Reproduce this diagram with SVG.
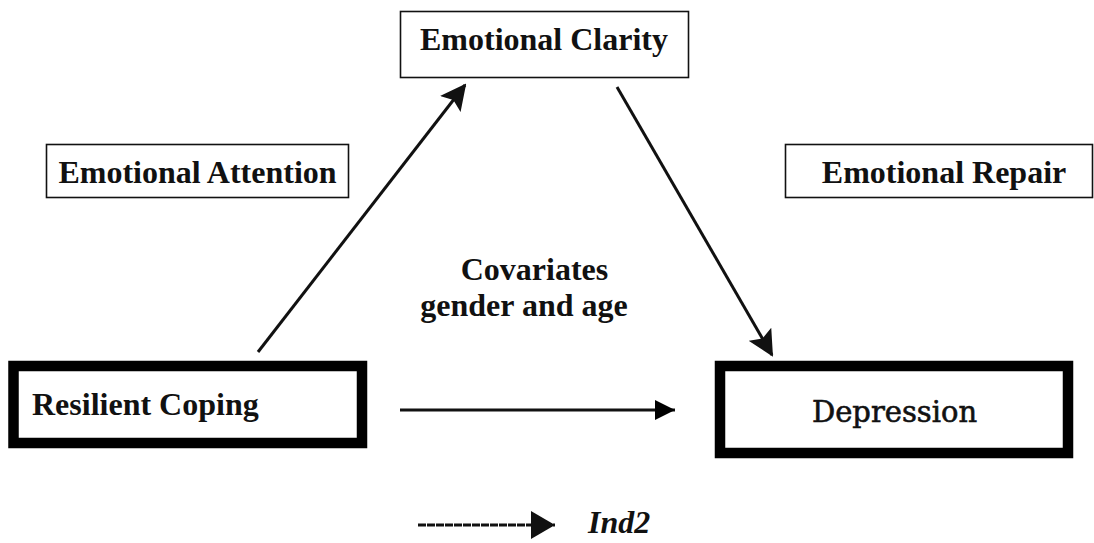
<svg xmlns="http://www.w3.org/2000/svg" width="1094" height="543" viewBox="0 0 1094 543">
<style>
.t{font-family:"Liberation Serif","Times New Roman",serif;font-weight:bold;font-size:32px;fill:#111}
.thin{fill:#fff;stroke:#111;stroke-width:1.6}
.thick{fill:#fff;stroke:#000;stroke-width:10.5}
.c{stroke:#111;stroke-width:3;fill:none}
</style>
<defs>
<marker id="ah" viewBox="0 0 26 26" refX="24" refY="13" markerWidth="26" markerHeight="26" markerUnits="userSpaceOnUse" orient="auto">
<path d="M0,0 L26,13 L0,26 L5,13 Z" fill="#111"/>
</marker>
<marker id="ah2" viewBox="0 0 20 20" refX="20" refY="10" markerWidth="20" markerHeight="20" markerUnits="userSpaceOnUse" orient="auto">
<path d="M0,0 L20,10 L0,20 Z" fill="#000"/>
</marker>
<marker id="ah3" viewBox="0 0 24 28" refX="24" refY="14" markerWidth="24" markerHeight="28" markerUnits="userSpaceOnUse" orient="auto">
<path d="M0,0 L24,14 L0,28 Z" fill="#111"/>
</marker>
</defs>
<rect width="1094" height="543" fill="#fff"/>
<g id="emotional-clarity">
<rect class="thin" x="400.5" y="11.5" width="288" height="66"/>
<text class="t" x="544" y="50" text-anchor="middle">Emotional Clarity</text>
</g>
<g id="emotional-attention">
<rect class="thin" x="46.5" y="144.5" width="302" height="53"/>
<text class="t" x="197.5" y="183" text-anchor="middle">Emotional Attention</text>
</g>
<g id="emotional-repair">
<rect class="thin" x="785.5" y="144.5" width="307" height="53"/>
<text class="t" x="944" y="183" text-anchor="middle">Emotional Repair</text>
</g>
<g id="covariates">
<text class="t" x="534.5" y="280" text-anchor="middle">Covariates</text>
<text class="t" x="524" y="316" text-anchor="middle">gender and age</text>
</g>
<g id="resilient-coping">
<rect class="thick" x="13.5" y="366" width="348.5" height="77"/>
<text class="t" x="32" y="415">Resilient Coping</text>
</g>
<g id="depression">
<rect class="thick" x="720" y="366" width="348" height="87"/>
<text x="894.5" y="422" text-anchor="middle" font-family="'DejaVu Serif','Liberation Serif',serif" font-size="29" fill="#111" stroke="#111" stroke-width="0.6">Depression</text>
</g>
<g id="legend">
<text x="588" y="533" font-family="'Liberation Serif','Times New Roman',serif" font-weight="bold" font-style="italic" font-size="32" fill="#111">Ind2</text>
</g>
<g id="connectors">
<line class="c" x1="258" y1="352" x2="465" y2="85" marker-end="url(#ah)"/>
<line class="c" x1="617" y1="87" x2="772" y2="355" marker-end="url(#ah)"/>
<line class="c" x1="400" y1="410" x2="675" y2="410" marker-end="url(#ah2)"/>
<line class="c" x1="418" y1="525" x2="555" y2="525" stroke-dasharray="8 1" marker-end="url(#ah3)"/>
</g>
</svg>
